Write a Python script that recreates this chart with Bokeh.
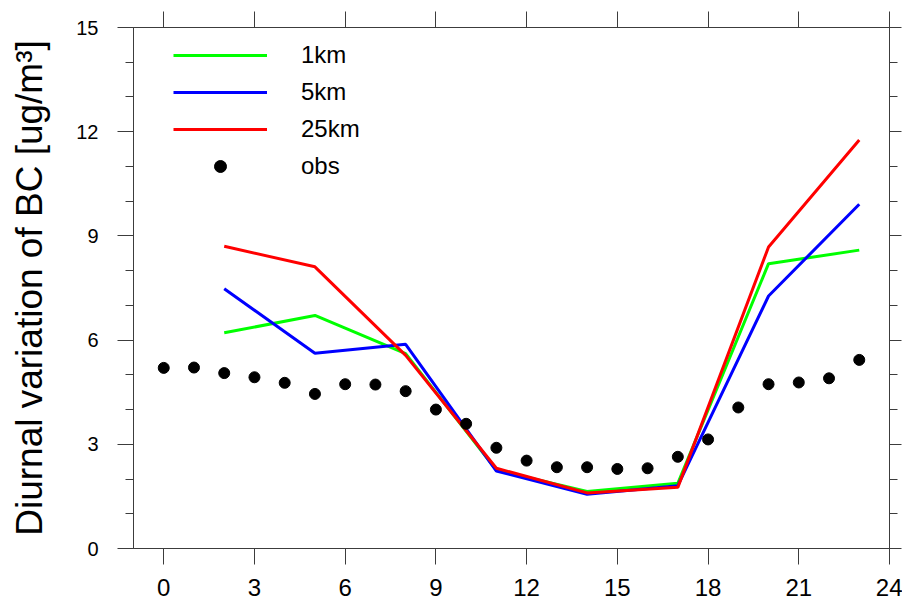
from bokeh.plotting import figure
from bokeh.models import (LinearAxis, FixedTicker, Range1d, Legend, LegendItem,
                          CustomJSTickFormatter)
from bokeh.embed import file_html
from bokeh.resources import INLINE

# Hour of day
obs_hours = list(range(24))
model_hours = [2, 5, 8, 11, 14, 17, 20, 23]

# Black carbon concentration [ug/m3]
bc_obs = [5.20, 5.21, 5.05, 4.93, 4.77, 4.45, 4.73, 4.72, 4.53, 4.00,
          3.59, 2.90, 2.53, 2.34, 2.34, 2.29, 2.31, 2.64, 3.14, 4.06,
          4.73, 4.78, 4.90, 5.43]
bc_1km = [6.21, 6.71, 5.61, 2.26, 1.64, 1.88, 8.20, 8.59]
bc_5km = [7.48, 5.62, 5.88, 2.23, 1.56, 1.81, 7.27, 9.91]
bc_25km = [8.70, 8.11, 5.56, 2.31, 1.60, 1.76, 8.68, 11.76]

x_ticks = [0, 3, 6, 9, 12, 15, 18, 21, 24]
y_ticks = [0, 3, 6, 9, 12, 15]
y_minor = [v for v in range(0, 16) if v % 3 != 0]

FONT = "Liberation Sans"
AXIS_COLOR = "#3c3c3c"

p = figure(width=902, height=605, output_backend="svg", toolbar_location=None,
           x_range=Range1d(-1, 24), y_range=Range1d(0, 15),
           min_border_left=133, min_border_right=13,
           min_border_top=27, min_border_bottom=57)
p.xgrid.visible = False
p.ygrid.visible = False
p.outline_line_color = AXIS_COLOR
p.outline_line_width = 1
p.background_fill_color = "white"
p.border_fill_color = "white"

# Model lines
r1 = p.line(model_hours, bc_1km, line_color="#00ff00", line_width=3)
r5 = p.line(model_hours, bc_5km, line_color="#0000ff", line_width=3)
r25 = p.line(model_hours, bc_25km, line_color="#ff0000", line_width=3)
# Observations
ro = p.scatter(obs_hours, bc_obs, marker="circle", size=11,
               fill_color="black", line_color="black")


def style_axis(ax, ticker, label_size, standoff, show_labels=True,
               minor=True, tick_out=16):
    ax.ticker = ticker
    ax.axis_line_color = AXIS_COLOR
    ax.major_tick_line_color = AXIS_COLOR
    ax.minor_tick_line_color = AXIS_COLOR if minor else None
    ax.major_tick_in = 0
    ax.major_tick_out = tick_out
    ax.minor_tick_in = 0
    ax.minor_tick_out = 8
    ax.major_label_text_font = FONT
    ax.major_label_text_color = "black"
    ax.major_label_text_font_size = label_size
    ax.major_label_standoff = standoff
    if not show_labels:
        ax.formatter = CustomJSTickFormatter(code="return ''")
        ax.major_label_standoff = 0


style_axis(p.xaxis[0], FixedTicker(ticks=x_ticks), "24px", 14, minor=False)
style_axis(p.yaxis[0], FixedTicker(ticks=y_ticks, minor_ticks=y_minor),
           "20px", 19)

p.yaxis[0].axis_label = "Diurnal variation of BC [ug/m\u00b3]"
p.yaxis[0].axis_label_text_font = FONT
p.yaxis[0].axis_label_text_font_size = "37px"
p.yaxis[0].axis_label_text_font_style = "normal"
p.yaxis[0].axis_label_text_color = "black"
p.yaxis[0].axis_label_standoff = 23

top = LinearAxis()
style_axis(top, FixedTicker(ticks=x_ticks), "1px", 0, show_labels=False,
           minor=False)
p.add_layout(top, "above")

right = LinearAxis()
style_axis(right, FixedTicker(ticks=y_ticks, minor_ticks=y_minor), "1px", 0,
           show_labels=False, tick_out=12)
p.add_layout(right, "right")

legend = Legend(items=[
    LegendItem(label="1km", renderers=[r1]),
    LegendItem(label="5km", renderers=[r5]),
    LegendItem(label="25km", renderers=[r25]),
    LegendItem(label="obs", renderers=[ro]),
], location=(40, 367))
legend.glyph_width = 94
legend.glyph_height = 30
legend.label_height = 30
legend.spacing = 7
legend.label_standoff = 34
legend.padding = 0
legend.margin = 0
legend.border_line_color = None
legend.background_fill_alpha = 0
legend.label_text_font = FONT
legend.label_text_font_size = "24px"
legend.label_text_color = "black"
p.add_layout(legend)

open("out.html", "w").write(file_html(p, INLINE))
